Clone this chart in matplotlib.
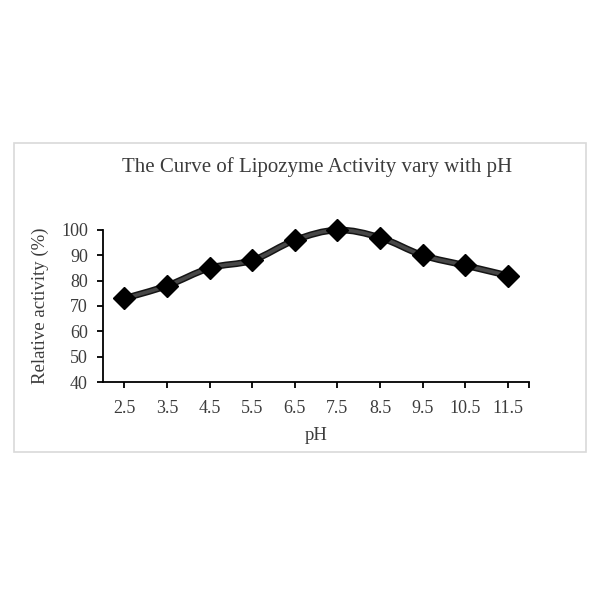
import numpy as np
import matplotlib
matplotlib.use('Agg')
import matplotlib.pyplot as plt
from matplotlib.path import Path
from matplotlib.patches import PathPatch, Rectangle

# data
ph = [2.5, 3.5, 4.5, 5.5, 6.5, 7.5, 8.5, 9.5, 10.5, 11.5]
activity = [73, 78, 85, 88, 96, 100, 97, 90, 86, 82]
tick_labels = ['2.5', '3.5', '4.5', '5.5', '6.5', '7.5', '8.5', '9.5', '10.5', '11.5']

plt.rcParams['font.family'] = ['Liberation Serif', 'DejaVu Serif']
txt = '#3c3c3c'


def smooth_path(x, y):
    # Excel-style smoothed line: cubic bezier segments with catmull-rom tangents
    x = np.asarray(x, float)
    y = np.asarray(y, float)
    verts = [(x[0], y[0])]
    codes = [Path.MOVETO]
    n = len(x)
    for i in range(n - 1):
        p0 = i - 1 if i > 0 else i
        p3 = i + 2 if i + 2 < n else i + 1
        c1 = (x[i] + (x[i + 1] - x[p0]) / 6, y[i] + (y[i + 1] - y[p0]) / 6)
        c2 = (x[i + 1] - (x[p3] - x[i]) / 6, y[i + 1] - (y[p3] - y[i]) / 6)
        verts += [c1, c2, (x[i + 1], y[i + 1])]
        codes += [Path.CURVE4] * 3
    return Path(verts, codes)


fig = plt.figure(figsize=(6, 6), dpi=100)
fig.patches.append(Rectangle((14 / 600, 1 - 452 / 600), 572 / 600, 309 / 600,
                             transform=fig.transFigure, fill=False,
                             edgecolor='#d9d9d9', linewidth=1.2))

ax = fig.add_axes([0.172, 0.3633, 0.71, 0.2534])

path = smooth_path(ph, activity)
ax.add_patch(PathPatch(path, facecolor='none', edgecolor='#151515', linewidth=4.8,
                       capstyle='round', joinstyle='round', zorder=2, clip_on=False))
ax.add_patch(PathPatch(path, facecolor='none', edgecolor='#474747', linewidth=2.6,
                       capstyle='round', joinstyle='round', zorder=2, clip_on=False))
ax.plot(ph, activity, linestyle='none', marker='D', markersize=11,
        color='black', zorder=3, clip_on=False)

ax.set_xlim(2, 12)
ax.set_ylim(40, 100)
ax.set_xticks(ph + [12])
ax.set_xticklabels(tick_labels + [''])
ax.set_yticks(range(40, 101, 10))

for s in ['top', 'right']:
    ax.spines[s].set_visible(False)
for s in ['left', 'bottom']:
    ax.spines[s].set_linewidth(1.3)
ax.tick_params(direction='out', length=4, width=1.3, labelsize=13,
               colors='black', labelcolor=txt)
ax.tick_params(axis='x', pad=9)
ax.tick_params(axis='y', pad=7)

ax.set_xlabel('pH', fontsize=13.5, color=txt, labelpad=7)
ax.set_ylabel('Relative activity (%)', fontsize=13.5, color=txt, labelpad=9)
fig.text(0.528, 1 - 167 / 600, 'The Curve of Lipozyme Activity vary with pH',
         ha='center', va='center', fontsize=15, color=txt)

fig.savefig('out.png', dpi=100, facecolor='white')
